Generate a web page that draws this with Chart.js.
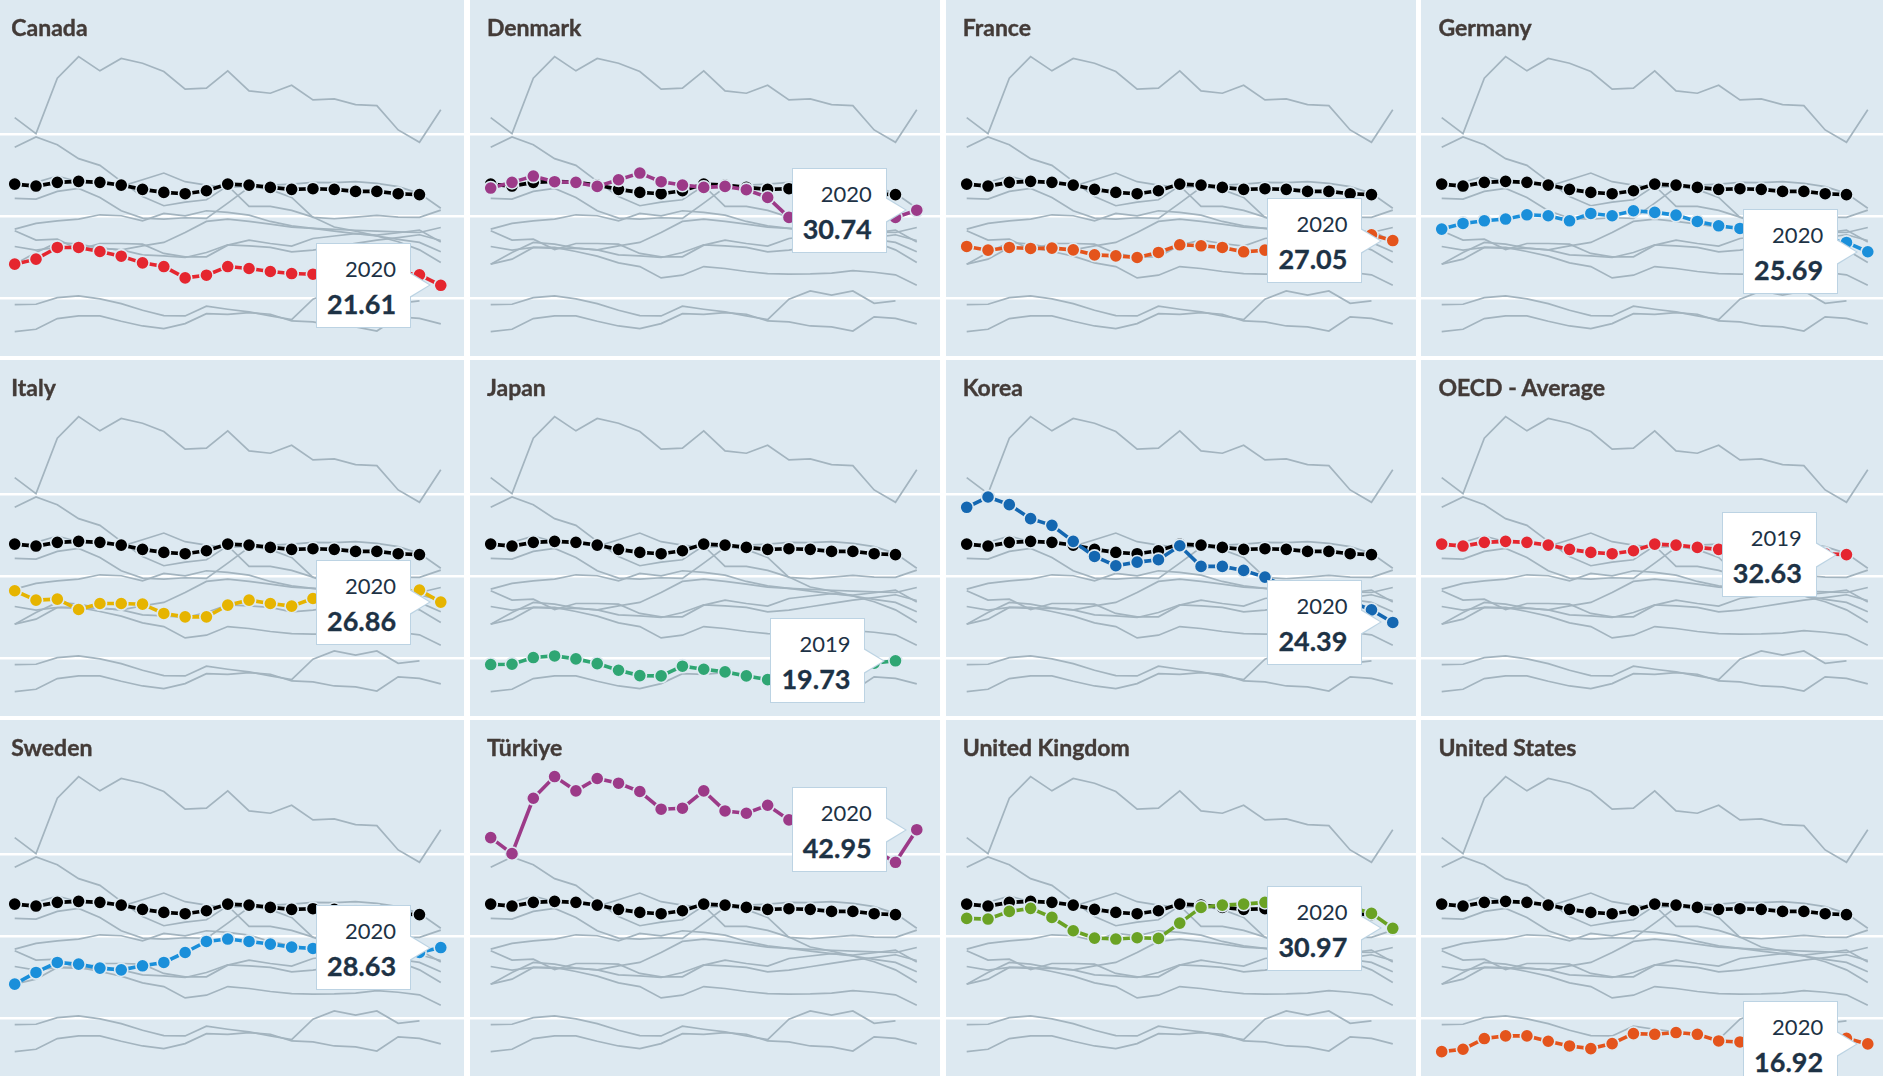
<!DOCTYPE html>
<html>
<head>
<meta charset="utf-8">
<script src="https://cdn.jsdelivr.net/npm/chart.js@4.4.1/dist/chart.umd.min.js"></script>
<style>
  html, body { margin: 0; padding: 0; background: #fff; }
  body { width: 1883px; height: 1076px; overflow: hidden; position: relative; font-family: Lato, "Noto Sans", sans-serif; }
  .panel { position: absolute; width: 470px; height: 356px; background: #dde9f1; overflow: hidden; }
  .panel canvas { position: absolute; left: 0; top: 0; }
  .title { position: absolute; left: 17px; top: 16px; font-size: 23px; line-height: 23px; font-weight: 700; color: #433b38; white-space: nowrap; -webkit-text-stroke: 0.4px #433b38; }
  .callout { position: absolute; width: 95px; height: 85px; box-sizing: border-box; background: #fff; border: 1px solid #bcd3e3; text-align: right; color: #1d3245; padding-right: 14px; }
  .callout::before, .callout::after { content: ''; position: absolute; top: 50%; width: 0; height: 0; border-style: solid; }
  .callout::before { left: 100%; margin-top: -13px; border-width: 13px 0 13px 21px; border-color: transparent transparent transparent #bcd3e3; }
  .callout::after { left: 100%; margin-top: -12px; margin-left: -1px; border-width: 12px 0 12px 20px; border-color: transparent transparent transparent #fff; }
  .callout .yr { font-size: 22px; line-height: 22px; margin-top: 14px; }
  .callout .val { font-size: 27px; line-height: 27px; font-weight: 700; margin-top: 10px; -webkit-text-stroke: 0.3px #1d3245; }
</style>
</head>
<body>
<script>
const years = ['2000', '2001', '2002', '2003', '2004', '2005', '2006', '2007', '2008', '2009', '2010',
  '2011', '2012', '2013', '2014', '2015', '2016', '2017', '2018', '2019', '2020'];

// one series per country, 2000 -> 2020 (Japan and OECD stop at 2019)
const canada = [24.18, 24.79, 26.21, 26.21, 25.72, 25.15, 24.34, 23.89, 22.51, 22.84, 23.89, 23.65, 23.29, 23.04, 22.96, 23.0, 23.1, 23.4, 23.2, 22.88, 21.61];
const denmark = [33.43, 34.12, 34.89, 34.20, 34.12, 33.63, 34.44, 35.25, 34.20, 33.79, 33.51, 33.63, 33.23, 32.29, 29.86, 29.7, 29.9, 30.1, 29.9, 29.86, 30.74];
const france = [26.33, 25.88, 26.21, 26.09, 26.13, 25.92, 25.31, 25.19, 24.99, 25.60, 26.53, 26.41, 26.21, 25.68, 25.88, 26.3, 26.7, 27.1, 27.4, 27.75, 27.05];
const germany = [28.44, 29.13, 29.45, 29.66, 30.18, 30.06, 29.45, 30.34, 30.06, 30.67, 30.47, 30.14, 29.37, 28.84, 28.52, 28.2, 27.9, 27.6, 27.2, 26.82, 25.69];
const italy = [28.24, 27.10, 27.22, 25.96, 26.69, 26.69, 26.61, 25.48, 25.07, 25.07, 26.49, 27.10, 26.69, 26.37, 27.30, 27.6, 27.9, 27.7, 28.0, 28.32, 26.86];
const japan = [19.27, 19.31, 20.12, 20.32, 19.96, 19.39, 18.58, 17.93, 17.89, 19.07, 18.70, 18.38, 17.89, 17.44, 19.92, 20.93, 20.41, 20.93, 19.43, 19.73];
const korea = [38.38, 39.63, 38.70, 37.00, 36.19, 34.24, 32.41, 31.28, 31.72, 32.01, 33.71, 31.20, 31.20, 30.71, 29.90, 28.7, 28.2, 27.6, 26.9, 25.92, 24.39];
const oecdAverage = [33.91, 33.67, 34.12, 34.24, 34.12, 33.79, 33.27, 32.90, 32.74, 33.10, 33.91, 33.79, 33.51, 33.27, 33.35, 33.27, 33.02, 33.02, 32.74, 32.63];
const sweden = [24.18, 25.60, 26.82, 26.61, 26.13, 25.92, 26.41, 26.82, 28.03, 29.37, 29.66, 29.37, 29.05, 28.68, 28.52, 28.4, 28.3, 28.2, 28.1, 28.03, 28.63];
const turkiye = [41.99, 40.04, 46.77, 49.41, 47.67, 49.17, 48.60, 47.59, 45.44, 45.56, 47.67, 45.23, 44.95, 45.92, 44.14, 44.26, 43.57, 43.45, 40.49, 38.99, 42.95];
const unitedKingdom = [32.17, 32.09, 33.02, 33.39, 32.29, 30.67, 29.78, 29.66, 29.82, 29.74, 31.60, 33.51, 33.79, 33.91, 34.12, 34.1, 34.2, 34.0, 33.6, 32.78, 30.97];
const unitedStates = [15.98, 16.27, 17.57, 17.89, 17.89, 17.24, 16.67, 16.35, 16.96, 18.17, 18.09, 18.30, 18.09, 17.28, 17.16, 16.67, 16.55, 16.06, 17.77, 17.6, 16.92];

const panelNames = ['Canada', 'Denmark', 'France', 'Germany', 'Italy', 'Japan', 'Korea', 'OECD - Average',
  'Sweden', 'Türkiye', 'United Kingdom', 'United States'];
const panelSeries = [canada, denmark, france, germany, italy, japan, korea, oecdAverage,
  sweden, turkiye, unitedKingdom, unitedStates];
const panelColors = ['#e5262f', '#9c3a88', '#e4541c', '#1a8fda', '#e6b400', '#2fa673', '#1467b1', '#e5262f',
  '#1a8fda', '#9c3a88', '#6aa224', '#e4541c'];
const gridValues = [20, 30, 40];

const panelBg = '#dde9f1';
const greyLine = '#a3b4bf';

const toPoints = arr => arr.map((v, k) => ({ x: +years[k], y: v }));

panelNames.forEach((name, i) => {
  const col = i % 4, row = Math.floor(i / 4);
  const series = panelSeries[i];
  const color = panelColors[i];

  const panel = document.createElement('div');
  panel.className = 'panel';
  panel.style.left = (-5.7 + col * 475.7) + 'px';
  panel.style.top = (row * 360) + 'px';

  const canvas = document.createElement('canvas');
  canvas.width = 470;
  canvas.height = 356;
  panel.appendChild(canvas);

  const title = document.createElement('div');
  title.className = 'title';
  title.textContent = name;
  panel.appendChild(title);

  const last = series.length - 1;
  const box = document.createElement('div');
  box.className = 'callout';
  box.innerHTML = '<div class="yr">' + years[last] + '</div><div class="val">' + series[last].toFixed(2) + '</div>';
  panel.appendChild(box);
  document.body.appendChild(panel);

  const datasets = [{
    data: toPoints(series),
    borderColor: color,
    backgroundColor: color,
    borderWidth: 3.6,
    pointRadius: 6.6,
    pointBorderWidth: 1.6,
    pointBorderColor: panelBg,
    pointBackgroundColor: color,
    order: 0
  }];
  if (series !== oecdAverage) {
    datasets.push({
      data: toPoints(oecdAverage),
      borderColor: '#000',
      backgroundColor: '#000',
      borderWidth: 3.6,
      pointRadius: 6.6,
      pointBorderWidth: 1.6,
      pointBorderColor: panelBg,
      pointBackgroundColor: '#000',
      order: 1
    });
  }
  panelSeries.forEach(s => {
    datasets.push({
      data: toPoints(s),
      borderColor: greyLine,
      borderWidth: 1.7,
      pointRadius: 0,
      order: 2
    });
  });

  new Chart(canvas, {
    type: 'line',
    data: { datasets: datasets },
    options: {
      responsive: false,
      animation: false,
      devicePixelRatio: 1,
      layout: { padding: 0, autoPadding: false },
      plugins: { legend: { display: false }, tooltip: { enabled: false } },
      scales: {
        x: { type: 'linear', display: false, min: 1999.028, max: 2021.09 },
        y: {
          min: 13.02,
          max: 56.28,
          border: { display: false },
          grid: { color: '#fff', lineWidth: 2.4, drawTicks: false },
          ticks: { display: false },
          afterBuildTicks: s => { s.ticks = gridValues.map(v => ({ value: v })); },
          afterFit: s => { s.width = 0; }
        }
      }
    },
    plugins: [{
      id: 'callout',
      afterDraw(chart) {
        const pts = chart.getDatasetMeta(0).data;
        const p = pts[pts.length - 1];
        box.style.left = (p.x - 125) + 'px';
        box.style.top = (p.y - 42.5) + 'px';
      }
    }]
  });
});
</script>
</body>
</html>
